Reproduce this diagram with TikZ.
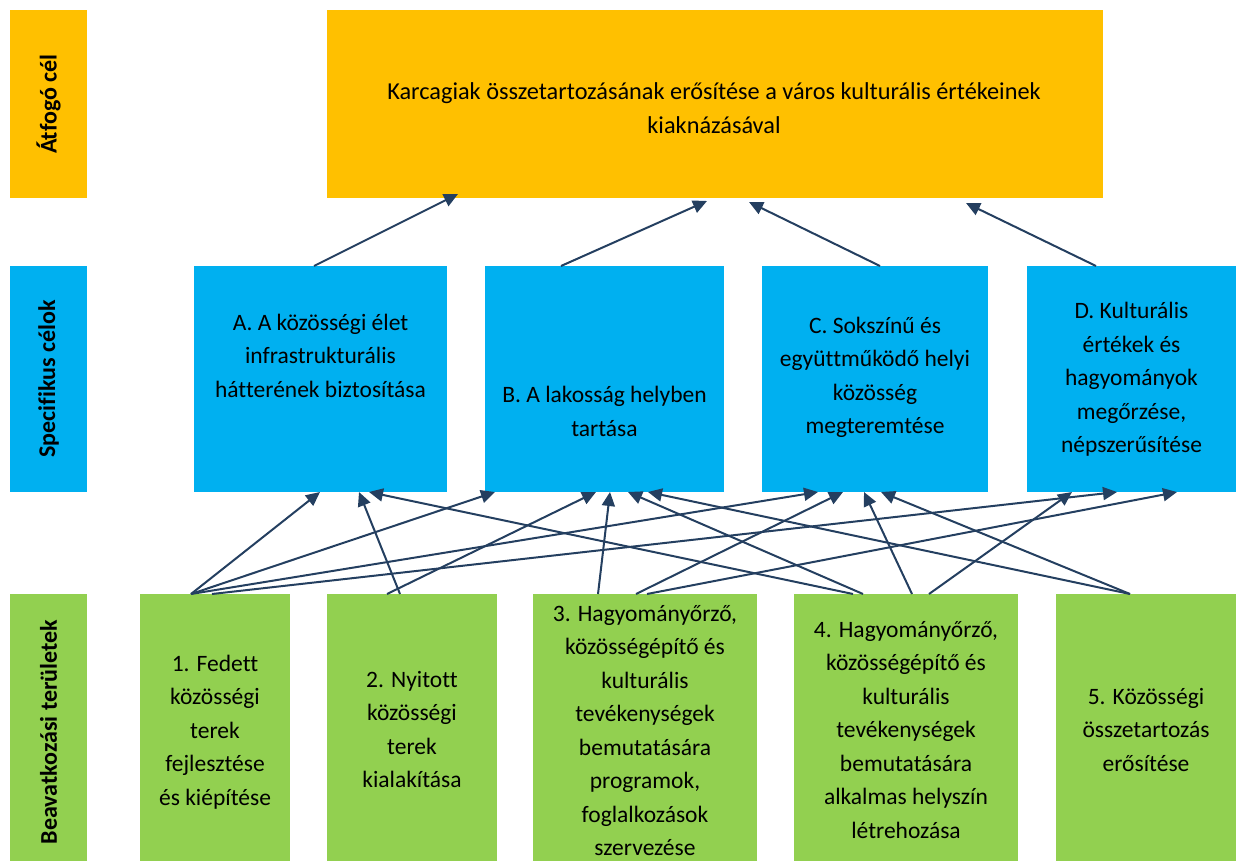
\documentclass[tikz,border=0pt]{standalone}
\usepackage{fontspec}
\setmainfont{Carlito}[Ligatures={NoCommon}]
\usetikzlibrary{arrows.meta,calc}
\definecolor{gold}{HTML}{FFC000}
\definecolor{sky}{HTML}{00B0F0}
\definecolor{leaf}{HTML}{92D050}
\definecolor{navy}{HTML}{243F60}
\begin{document}
\begin{tikzpicture}[x=1pt,y=-1pt,
  box/.style={draw=none,inner sep=0pt,outer sep=0pt,anchor=north west},
  colbox/.style={draw=none,inner sep=0pt,outer sep=0pt,rotate=90,font=\bfseries\fontsize{24}{28}\selectfont},
  txt/.style={align=center,inner sep=0pt,font=\fontsize{23.5}{33.5}\selectfont},
  conn/.style={draw=navy,line width=2pt,-{Triangle[length=14pt,width=13pt]}}]
\useasboundingbox (0,0) rectangle (1236,861);
% left column labels
\node[colbox,fill=gold,minimum width=188pt,minimum height=77pt] (L1) at (48.5,104) {Átfogó cél};
\node[colbox,fill=sky,minimum width=226pt,minimum height=77pt] (L2) at (48.5,379) {Specifikus célok};
\node[colbox,fill=leaf,minimum width=276pt,minimum height=77pt] (L3) at (48.5,732) {Beavatkozási területek};
% boxes
\node[box,fill=gold,minimum width=776pt,minimum height=188pt] (T) at (327,10) {};
\node[box,fill=sky,minimum width=253pt,minimum height=226pt] (A) at (194,266) {};
\node[box,fill=sky,minimum width=239pt,minimum height=226pt] (B) at (485,266) {};
\node[box,fill=sky,minimum width=226pt,minimum height=226pt] (C) at (762,266) {};
\node[box,fill=sky,minimum width=209pt,minimum height=226pt] (D) at (1027,266) {};
\node[box,fill=leaf,minimum width=150pt,minimum height=267pt] (G1) at (140,594) {};
\node[box,fill=leaf,minimum width=170pt,minimum height=267pt] (G2) at (327,594) {};
\node[box,fill=leaf,minimum width=224pt,minimum height=267pt] (G3) at (533,594) {};
\node[box,fill=leaf,minimum width=224pt,minimum height=267pt] (G4) at (794,594) {};
\node[box,fill=leaf,minimum width=180pt,minimum height=267pt] (G5) at (1056,594) {};
% texts
\node[txt,font=\fontsize{24.3}{33.5}\selectfont] (Tt) at (714,109.8) {\strut Karcagiak összetartozásának erősítése a város kulturális értékeinek\\\strut kiaknázásával};
\node[txt] (At) at (320.5,356.8) {\strut A. A közösségi élet\\\strut infrastrukturális\\\strut hátterének biztosítása};
\node[txt] (Bt) at (604.5,412.8) {\strut B. A lakosság helyben\\\strut tartása};
\node[txt] (Ct) at (875,376.8) {\strut C. Sokszínű és\\\strut együttműködő helyi\\\strut közösség\\\strut megteremtése};
\node[txt] (Dt) at (1131.5,378.8) {\strut D. Kulturális\\\strut értékek és\\\strut hagyományok\\\strut megőrzése,\\\strut népszerűsítése};
\node[txt] (G1t) at (215,731.3) {\strut 1. Fedett\\\strut közösségi\\\strut terek\\\strut fejlesztése\\\strut és kiépítése};
\node[txt] (G2t) at (412,730.8) {\strut 2. Nyitott\\\strut közösségi\\\strut terek\\\strut kialakítása};
\node[txt] (G3t) at (645,731.8) {\strut 3. Hagyományőrző,\\\strut közösségépítő és\\\strut kulturális\\\strut tevékenységek\\\strut bemutatására\\\strut programok,\\\strut foglalkozások\\\strut szervezése};
\node[txt] (G4t) at (906,730.8) {\strut 4. Hagyományőrző,\\\strut közösségépítő és\\\strut kulturális\\\strut tevékenységek\\\strut bemutatására\\\strut alkalmas helyszín\\\strut létrehozása};
\node[txt] (G5t) at (1146,730.8) {\strut 5. Közösségi\\\strut összetartozás\\\strut erősítése};
% arrows specific -> overall
\draw[conn] ($(A.north west)+(120,0)$) -- ($(T.south west)+(131,-4)$);
\draw[conn] ($(B.north west)+(76,0)$) -- ($(T.south west)+(380,3)$);
\draw[conn] ($(C.north west)+(118,0)$) -- ($(T.south west)+(422,4)$);
\draw[conn] ($(D.north west)+(69,0)$) -- ($(T.south west)+(639,5)$);
% arrows areas -> specific
\draw[conn] ($(G1.north west)+(51,0)$) -- ($(A.south west)+(126,0)$);
\draw[conn] ($(G1.north west)+(51,0)$) -- ($(B.south west)+(10,0)$);
\draw[conn] ($(G1.north west)+(51,0)$) -- ($(C.south west)+(56,0)$);
\draw[conn] ($(G1.north west)+(72,0)$) -- ($(D.south west)+(90,0)$);
\draw[conn] ($(G2.north west)+(73,0)$) -- ($(A.south west)+(165,0)$);
\draw[conn] ($(G2.north west)+(60,0)$) -- ($(B.south west)+(111,0)$);
\draw[conn] ($(G3.north west)+(65,0)$) -- ($(B.south west)+(125,0)$);
\draw[conn] ($(G3.north west)+(103,0)$) -- ($(C.south west)+(81,0)$);
\draw[conn] ($(G3.north west)+(114,0)$) -- ($(D.south west)+(150,0)$);
\draw[conn] ($(G4.north west)+(59,0)$) -- ($(A.south west)+(175,0)$);
\draw[conn] ($(G4.north west)+(69,0)$) -- ($(B.south west)+(143,0)$);
\draw[conn] ($(G4.north west)+(118,0)$) -- ($(C.south west)+(102,0)$);
\draw[conn] ($(G4.north west)+(135,0)$) -- ($(D.south west)+(45,0)$);
\draw[conn] ($(G5.north west)+(74,0)$) -- ($(B.south west)+(163,0)$);
\draw[conn] ($(G5.north west)+(74,0)$) -- ($(C.south west)+(119,0)$);
\end{tikzpicture}
\end{document}
